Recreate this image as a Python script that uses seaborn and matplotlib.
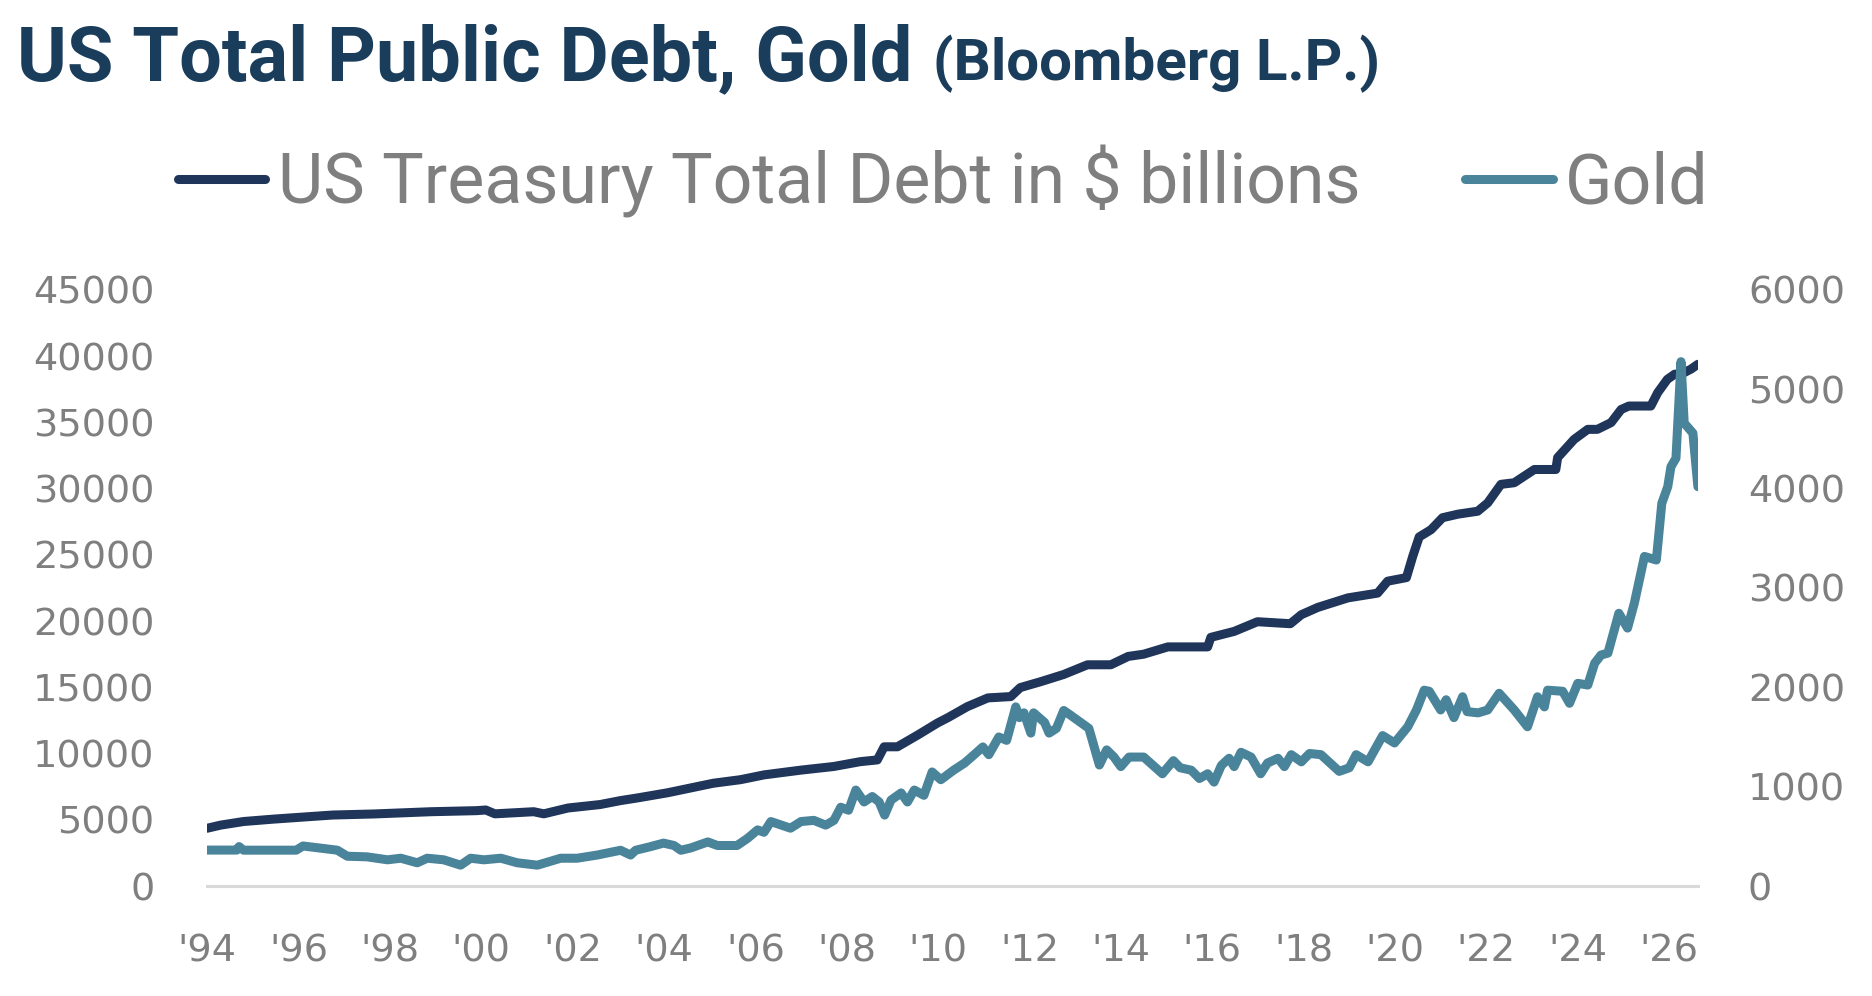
import numpy as np
import pandas as pd
import seaborn as sns
import matplotlib.pyplot as plt

# values (x = decimal year)
debt_year = [1994.0, 1994.3, 1994.8, 1995.45, 1996.2, 1996.75, 1997.65, 1998.9, 1999.9, 2000.1,
             2000.3, 2001.15, 2001.37, 2001.9, 2002.6, 2003.05, 2003.42, 2004.08, 2005.08, 2005.68,
             2006.19, 2007.0, 2007.72, 2008.3, 2008.67, 2008.82, 2009.11, 2009.56, 2009.99, 2010.22,
             2010.64, 2011.09, 2011.59, 2011.8, 2012.25, 2012.75, 2013.27, 2013.78, 2014.16, 2014.5,
             2015.03, 2015.9, 2015.97, 2016.48, 2016.99, 2017.71, 2017.95, 2018.31, 2018.97, 2019.62,
             2019.84, 2020.25, 2020.39, 2020.53, 2020.79, 2021.04, 2021.38, 2021.81, 2022.03, 2022.32,
             2022.61, 2023.05, 2023.52, 2023.56, 2023.92, 2024.22, 2024.43, 2024.73, 2024.95, 2025.12,
             2025.6, 2025.75, 2025.96, 2026.12, 2026.3, 2026.48, 2026.63]
debt_value = [4360, 4600, 4870, 5050, 5230, 5360, 5440, 5610, 5690, 5740,
              5450, 5610, 5450, 5890, 6150, 6450, 6650, 7040, 7760, 8030,
              8390, 8750, 9025, 9390, 9520, 10510, 10510, 11410, 12310, 12720,
              13540, 14200, 14300, 14980, 15430, 15970, 16700, 16700, 17330, 17500,
              18050, 18050, 18770, 19220, 19950, 19800, 20480, 21030, 21750, 22110,
              23010, 23280, 24900, 26350, 26900, 27800, 28070, 28290, 28920, 30320,
              30440, 31440, 31440, 32340, 33710, 34470, 34470, 34980, 35970, 36230,
              36230, 37240, 38240, 38630, 38700, 39020, 39380]

gold_year = [1994.0, 1994.65, 1994.7, 1994.8, 1995.95, 1996.1, 1996.85, 1997.07, 1997.5, 1997.95,
             1998.24, 1998.6, 1998.82, 1999.18, 1999.55, 1999.77, 2000.06, 2000.43, 2000.79, 2001.23,
             2001.74, 2002.1, 2002.54, 2003.05, 2003.27, 2003.38, 2003.7, 2003.99, 2004.22, 2004.37,
             2004.59, 2004.96, 2005.17, 2005.6, 2005.83, 2006.05, 2006.19, 2006.34, 2006.77, 2007.0,
             2007.28, 2007.54, 2007.72, 2007.87, 2008.04, 2008.2, 2008.38, 2008.56, 2008.71, 2008.83,
             2008.97, 2009.19, 2009.33, 2009.48, 2009.69, 2009.87, 2010.06, 2010.34, 2010.58, 2010.79,
             2010.98, 2011.11, 2011.33, 2011.5, 2011.7, 2011.78, 2011.88, 2012.03, 2012.09, 2012.33,
             2012.43, 2012.59, 2012.75, 2012.9, 2013.12, 2013.3, 2013.53, 2013.69, 2013.85, 2014.0,
             2014.18, 2014.5, 2014.91, 2015.15, 2015.3, 2015.54, 2015.72, 2015.9, 2016.04, 2016.2,
             2016.37, 2016.48, 2016.63, 2016.85, 2017.06, 2017.21, 2017.44, 2017.58, 2017.73, 2017.95,
             2018.13, 2018.38, 2018.78, 2019.0, 2019.15, 2019.41, 2019.73, 2019.99, 2020.28, 2020.47,
             2020.64, 2020.75, 2021.0, 2021.12, 2021.29, 2021.48, 2021.58, 2021.82, 2022.03, 2022.28,
             2022.61, 2022.9, 2023.12, 2023.27, 2023.34, 2023.67, 2023.82, 2024.0, 2024.22, 2024.37,
             2024.51, 2024.66, 2024.9, 2025.09, 2025.24, 2025.46, 2025.72, 2025.84, 2025.97, 2026.04,
             2026.15, 2026.26, 2026.33, 2026.52, 2026.63]
gold_value = [362, 362, 397, 361, 361, 403, 361, 300, 294, 264,
              280, 234, 280, 264, 210, 280, 264, 280, 234, 210,
              280, 280, 312, 360, 312, 360, 396, 432, 408, 360,
              384, 444, 408, 408, 480, 565, 541, 649, 582, 649,
              661, 613, 661, 793, 763, 966, 846, 901, 846, 714,
              865, 937, 846, 966, 913, 1148, 1070, 1166, 1238, 1322,
              1400, 1322, 1500, 1466, 1803, 1695, 1743, 1539, 1743, 1647,
              1539, 1587, 1767, 1719, 1647, 1587, 1218, 1370, 1298, 1202,
              1298, 1298, 1130, 1262, 1190, 1166, 1082, 1130, 1046, 1214,
              1286, 1202, 1346, 1298, 1130, 1238, 1286, 1202, 1322, 1250,
              1334, 1322, 1154, 1190, 1322, 1250, 1514, 1440, 1603, 1772,
              1971, 1960, 1772, 1875, 1695, 1905, 1755, 1743, 1772, 1940,
              1772, 1603, 1905, 1803, 1971, 1960, 1839, 2040, 2023, 2242,
              2325, 2344, 2745, 2596, 2849, 3317, 3281, 3852, 4019, 4220,
              4306, 5277, 4659, 4558, 4019]

tick_years = list(range(1994, 2027, 2))
tick_labels = ["'94", "'96", "'98", "'00", "'02", "'04", "'06", "'08", "'10",
               "'12", "'14", "'16", "'18", "'20", "'22", "'24", "'26"]

debt = pd.DataFrame({"year": debt_year, "value": debt_value})
gold = pd.DataFrame({"year": gold_year, "value": gold_value})

NAVY = "#1f355a"
TEAL = "#4a849a"
GREY = "#7f7f7f"
TITLE = "#1b3d5c"

sns.set_style("white")
plt.rcParams["font.family"] = ["DejaVu Sans"]

fig = plt.figure(figsize=(18.72, 9.96), dpi=100)
ax = fig.add_axes([0.1106, 0.1104, 0.7964, 0.5986])
ax2 = ax.twinx()

sns.lineplot(data=debt, x="year", y="value", ax=ax, color=NAVY, linewidth=6.5,
             estimator=None, label="US Treasury Total Debt in $ billions", legend=False)
sns.lineplot(data=gold, x="year", y="value", ax=ax2, color=TEAL, linewidth=6.5,
             estimator=None, label="Gold", legend=False)
for a in (ax, ax2):
    for ln in a.lines:
        ln.set_solid_capstyle("round")
        ln.set_solid_joinstyle("round")

ax.set_xlim(1994.0, 2026.63)
ax.set_ylim(0, 45000)
ax2.set_ylim(0, 6000)
ax.set_yticks(range(0, 45001, 5000))
ax2.set_yticks(range(0, 6001, 1000))
ax.set_xticks(tick_years)
ax.set_xticklabels(tick_labels)

for a in (ax, ax2):
    a.set_xlabel("")
    a.set_ylabel("")
    for s in a.spines.values():
        s.set_visible(False)
    a.tick_params(length=0, labelsize=27.5, labelcolor=GREY)
ax.spines["bottom"].set_visible(True)
ax.spines["bottom"].set_color("#d9d9d9")
ax.spines["bottom"].set_linewidth(2.2)
ax.tick_params(axis="y", pad=38)
ax.tick_params(axis="x", pad=34)
ax2.tick_params(axis="y", pad=36)

fig.text(0.009, 0.919, "US Total Public Debt, Gold", fontsize=54.5, fontweight="bold",
         color=TITLE, family="Roboto", va="baseline")
fig.text(0.4985, 0.919, "(Bloomberg L.P.)", fontsize=42, fontweight="bold",
         color=TITLE, family="Roboto", va="baseline")

handles = ax.lines[:1] + ax2.lines[:1]
leg = fig.legend(handles, [h.get_label() for h in handles], loc="center",
                 bbox_to_anchor=(0.504, 0.818), ncol=2, frameon=False,
                 handlelength=1.25, handletextpad=0.18, columnspacing=1.5,
                 prop={"family": "Roboto", "weight": "normal", "size": 50.3})
for t in leg.get_texts():
    t.set_color(GREY)

fig.savefig("out.png", dpi=100)
